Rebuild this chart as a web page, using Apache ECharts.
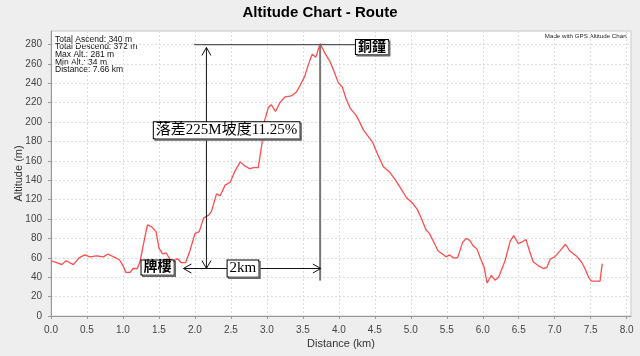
<!DOCTYPE html>
<html><head><meta charset="utf-8">
<script src="https://cdn.jsdelivr.net/npm/echarts@6/dist/echarts.min.js"></script>
<style>html,body{margin:0;padding:0;background:#eeeeee}#c{width:640px;height:356px}</style>
</head><body><div id="c"></div>
<script>
const titleText = 'Altitude Chart - Route';
const creditText = 'Made with GPS Altitude Chart';
const statsLines = ['Total Ascend: 340 m','Total Descend: 372 m','Max Alt.: 281 m','Min Alt.: 34 m','Distance: 7.66 km'];
const xName = 'Distance (km)';
const yName = 'Altitude (m)';

const distanceKm = [0,0.08,0.15,0.21,0.31,0.39,0.47,0.54,0.63,0.73,
0.79,0.87,0.95,1.0,1.04,1.1,1.14,1.2,1.24,1.29,
1.34,1.40,1.46,1.50,1.55,1.60,1.65,1.70,1.76,1.81,
1.87,1.93,2.0,2.06,2.12,2.19,2.23,2.30,2.35,2.42,
2.49,2.56,2.63,2.69,2.76,2.82,2.88,2.93,2.97,3.02,
3.06,3.12,3.18,3.25,3.34,3.41,3.47,3.53,3.57,3.63,
3.68,3.74,3.80,3.88,3.93,3.99,4.05,4.10,4.16,4.24,
4.29,4.34,4.40,4.47,4.55,4.62,4.71,4.78,4.85,4.94,
5.03,5.09,5.15,5.21,5.26,5.32,5.38,5.44,5.49,5.54,
5.59,5.65,5.72,5.77,5.82,5.86,5.92,5.97,6.02,6.06,
6.12,6.17,6.22,6.31,6.38,6.43,6.49,6.54,6.60,6.65,
6.70,6.77,6.84,6.89,6.94,7.0,7.07,7.15,7.21,7.30,
7.37,7.42,7.47,7.51,7.63,7.66];
const altitudeM = [57,55,53,57,53,60,63,61,62,61,
64,61,58,52,45,45,49,49,57,76,
94,92,87,70,64,65,59,57,59,55,
55,67,85,87,101,104,108,126,124,135,
138,150,159,155,152,153,153,177,202,215,
218,211,220,226,227,231,239,248,258,270,
267,281,272,262,253,241,236,224,214,207,
200,192,186,179,165,154,148,141,133,122,
116,110,100,89,85,76,67,64,61,63,
60,60,76,80,78,73,69,59,50,34,
42,37,40,57,77,83,75,76,79,67,
56,52,49,50,59,61,67,74,67,62,
56,49,40,36,36,54];

// annotation anchors in data units (km, m)
const peakLevelLine = [[1.99,280],[4.25,280]];
const peakDropLine = [[3.74,280],[3.74,36.5]];
const riseArrow = [[2.16,277],[2.16,49]];
const distArrow = [[1.84,49],[3.75,49]];
const labelTexts = ['牌樓','2km','落差225M坡度11.25%','銅鐘'];
const labelAnchors = [[1.48,50],[2.667,49],[2.44,191.5],[4.46,277.5]];

const chart = echarts.init(document.getElementById('c'), null, {renderer:'canvas'});

function arrowHead(tip, from, len, half){
  const dx = tip[0]-from[0], dy = tip[1]-from[1];
  const L = Math.sqrt(dx*dx+dy*dy) || 1;
  const ux = dx/L, uy = dy/L;
  const bx = tip[0]-ux*len, by = tip[1]-uy*len;
  return [[bx - uy*half, by + ux*half],[tip[0],tip[1]],[bx + uy*half, by - ux*half]];
}

function renderAnno(params, api){
  const c = p => api.coord(p);
  const kids = [];
  kids.push({type:'polyline', shape:{points:peakLevelLine.map(c)}, style:{stroke:'#555', lineWidth:1.3, fill:null}});
  kids.push({type:'polyline', shape:{points:peakDropLine.map(c)}, style:{stroke:'#777', lineWidth:2, fill:null}});
  [riseArrow, distArrow].forEach(a => {
    const A = c(a[0]), B = c(a[1]);
    kids.push({type:'polyline', shape:{points:[A,B]}, style:{stroke:'#111', lineWidth:1, fill:null}});
    kids.push({type:'polyline', shape:{points:arrowHead(A,B,8,4.5)}, style:{stroke:'#111', lineWidth:1, fill:null}});
    kids.push({type:'polyline', shape:{points:arrowHead(B,A,8,4.5)}, style:{stroke:'#111', lineWidth:1, fill:null}});
  });
  labelTexts.forEach((t,i) => {
    const p = c(labelAnchors[i]);
    const big = (i===1 || i===2);
    kids.push({type:'text', x:p[0], y:p[1], style:{
      text:t, align:'center', verticalAlign:'middle',
      font: (big ? '' : 'bold ') + (big ? '15px' : '14px') + " 'Liberation Serif','Noto Sans CJK TC',serif",
      fill:'#000', backgroundColor:'#fff', borderColor:'#000', borderWidth:1,
      padding: big ? [1,2,0,2] : [0,2,0,2],
      shadowColor:'#666', shadowOffsetX:1.5, shadowOffsetY:1.5, shadowBlur:0
    }});
  });
  return {type:'group', children:kids};
}

const option = {
  backgroundColor:'#eeeeee',
  animation:false,
  title:{text:titleText, left:'center', top:0, textStyle:{fontFamily:'Liberation Sans, Arial', fontSize:15, fontWeight:'bold', color:'#000'}},
  graphic:[
    {type:'text', left:55, top:35, style:{text:statsLines.join('\n'), font:"8.5px 'Liberation Sans',Arial", lineHeight:7.6, fill:'#111'}},
    {type:'text', right:13, top:33, style:{text:creditText, font:"6.2px 'Liberation Sans',Arial", fill:'#222'}}
  ],
  grid:{left:51, right:9, top:31, bottom:40, containLabel:false, outerBoundsMode:'none', show:true, backgroundColor:'#fff', borderColor:'#c8c8c8', borderWidth:1},
  xAxis:{type:'value', min:0, max:8.06, interval:0.5, name:xName, nameLocation:'middle', nameGap:19, offset:3, nameMoveOverlap:false,
    nameTextStyle:{fontFamily:'Liberation Sans, Arial', fontSize:11, color:'#333'},
    axisLine:{lineStyle:{color:'#999'}}, axisTick:{show:true, length:3, lineStyle:{color:'#999'}},
    axisLabel:{showMaxLabel:false, margin:6, fontFamily:'Liberation Sans, Arial', fontSize:10, color:'#444', formatter:v=>v.toFixed(1)},
    splitLine:{show:true, lineStyle:{color:'#dcdcdc', type:[2,2]}}},
  yAxis:{type:'value', min:0, max:294, interval:20, name:yName, nameLocation:'middle', nameGap:25, offset:2, nameMoveOverlap:false,
    nameTextStyle:{fontFamily:'Liberation Sans, Arial', fontSize:11, color:'#333'},
    axisLine:{show:true, lineStyle:{color:'#999'}}, axisTick:{show:true, length:3, lineStyle:{color:'#999'}},
    axisLabel:{showMaxLabel:false, margin:7, fontFamily:'Liberation Sans, Arial', fontSize:10, color:'#444'},
    splitLine:{show:true, lineStyle:{color:'#dcdcdc', type:[2,2]}}},
  series:[
    {type:'line', data:distanceKm.map((d,i)=>[d, altitudeM[i]]), showSymbol:false, symbol:'none',
     lineStyle:{color:'#ff4d4d', width:1.3}, z:3},
    {type:'custom', coordinateSystem:'cartesian2d', data:[[0,0]], renderItem:renderAnno, clip:false, z:5, silent:true}
  ]
};
chart.setOption(option);
</script></body></html>
